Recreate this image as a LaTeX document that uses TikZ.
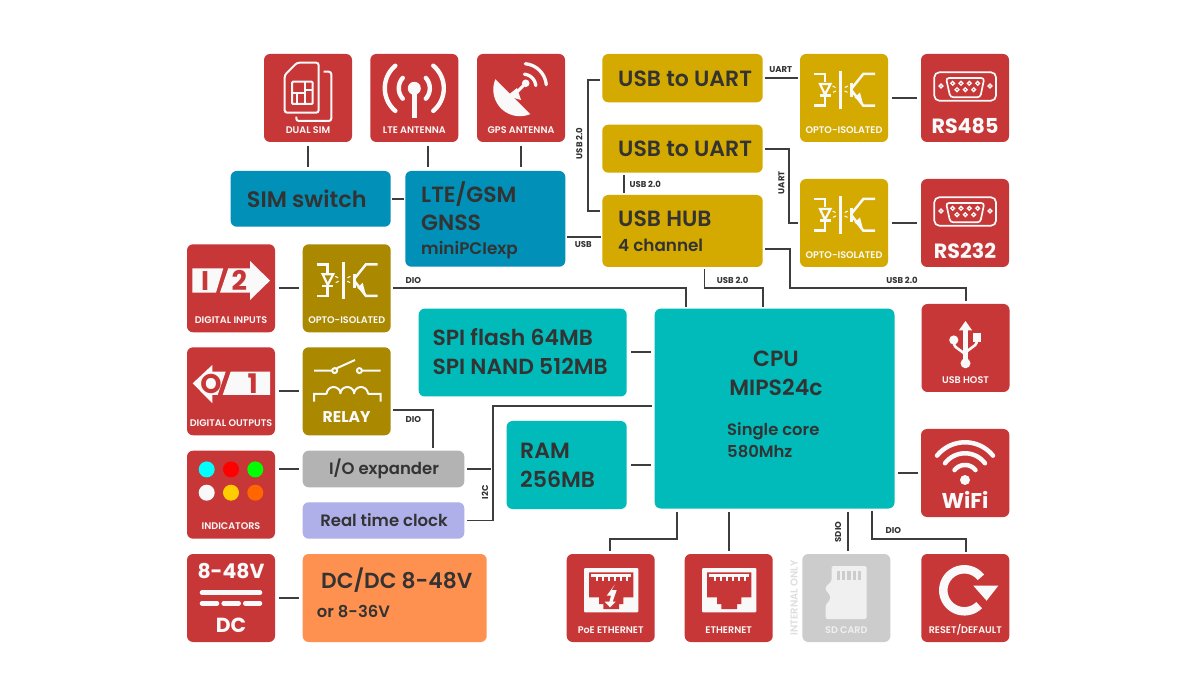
\documentclass[tikz,border=0pt]{standalone}
\usepackage{fontspec}
\setmainfont{Poppins}
\newfontfamily\pmed{Poppins Medium}
\newfontfamily\psemi{Poppins SemiBold}
\newcommand{\fs}[1]{\fontsize{#1}{#1}\selectfont}
\definecolor{rd}{HTML}{C83737}
\definecolor{gold}{HTML}{D4AA00}
\definecolor{dgold}{HTML}{AA8800}
\definecolor{blu}{HTML}{0090B8}
\definecolor{teal2}{HTML}{00BBB9}
\definecolor{gry}{HTML}{B3B3B3}
\definecolor{lav}{HTML}{AFAFE9}
\definecolor{org}{HTML}{FF9150}
\definecolor{sdg}{HTML}{CCCCCC}
\definecolor{ink}{HTML}{333333}
\definecolor{ic}{HTML}{F9F9F9}
\definecolor{yel}{HTML}{FFCC00}
\definecolor{ora}{HTML}{FF6600}
\definecolor{ledc}{HTML}{00FFFF}
\definecolor{ledr}{HTML}{FF0000}
\definecolor{ledg}{HTML}{00FF00}
\tikzset{
 bx/.style={rounded corners=6pt,inner sep=0pt,draw=none},
 conn/.style={draw=ink!95!white,line width=1.8pt,line join=miter,shorten >=#1,shorten <=#1},
 conn/.default=3.5pt,
 big/.style={font=\psemi,text=ink,inner sep=0pt,anchor=base west},
 mid/.style={font=\psemi,text=ink,inner sep=0pt,anchor=base},
 tag/.style={font=\bfseries\fs{8.5},text=ink,inner sep=0pt},
 lab/.style={font=\psemi\fs{9.6},text=ic,inner sep=0pt},
 il/.style={draw=ic,line width=1.7pt,fill=none},
 op/.style={draw=ic,line width=2.5pt,fill=none},
}
\newcommand{\mkbox}[6]{\node[bx,fill=#6,minimum width={#4-#2},minimum height={#5-#3}] (#1) at ({(#2+#4)/2},{(#3+#5)/2}) {};}
\newcommand{\Arc}[5]{plot[domain=#4:#5,samples=40,smooth] ({#1+#2*cos(\x)},{#3+#2*sin(\x)})}
\newcommand{\optoicon}{%
 \draw[op] (14,20)--(25,20)--(25,28.5);
 \draw[op,line width=2.2pt] (20,30)--(30.5,30)--(25,40.5)--cycle;
 \draw[op] (19.5,41.7)--(30.7,41.7);
 \draw[op] (25,41.7)--(25,51.7)--(14,51.7);
 \draw[op] (40.7,17.3)--(40.7,55);
 \draw[op,line width=3pt] (51.7,29.5)--(51.7,43.5);
 \draw[op] (52,34)--(63.3,20)--(75,20);
 \draw[op] (52,37)--(63.3,51.7)--(75,51.7);
 \fill[ic] (63,50)--(54.5,43.5)--(60,38.5)--cycle;
 \draw[ic,line width=1.1pt] (32.5,32)--(35.5,33.5) (33,38.3)--(36,37) (47.8,32)--(44.8,33.5) (47.5,38.3)--(44.5,37);
}
\newcommand{\rsicon}{%
 \draw[il,rounded corners=5pt] (13.3,18.3) rectangle (75,46.7);
 \draw[il,rounded corners=3pt] (25,24)--(63.3,24)--(59.3,43.3)--(29.3,43.3)--cycle;
 \foreach \px in {31.7,40,48.3,56.7} \draw[ic,line width=1.3pt] (\px,29.3) circle (1.9);
 \foreach \px in {36,44.3,52.7} \draw[ic,line width=1.3pt] (\px,35.7) circle (1.9);
 \draw[ic,line width=1.3pt] (20,32) circle (1.9) (69,32) circle (1.9);
}
\newcommand{\rjbase}{%
 \fill[ic,rounded corners=1pt] (17.3,14) rectangle (71.7,58.3);
 \fill[rd] (22.3,18.3)--(66.7,18.3)--(66.7,43.3)--(56.7,43.3)--(56.7,50)--(52.3,50)--(52.3,55)--(36.7,55)--(36.7,50)--(32.3,50)--(32.3,43.3)--(22.3,43.3)--cycle;
 \fill[ic] (24.3,20) rectangle (64.3,23);
 \foreach \px in {29,35,41,47,53,59} \fill[ic] (\px,22.7) rectangle (\px+2.4,26.7);
}
\begin{document}
\begin{tikzpicture}[x=1pt,y=-1pt]
\useasboundingbox (0,0) rectangle (1200,700);
\fill[white] (0,0) rectangle (1200,700);
% ---------- boxes
\mkbox{dualsim}{264}{54}{352}{142}{rd}
\mkbox{lteant}{370.3}{54}{458.3}{142}{rd}
\mkbox{gpsant}{477}{54}{565}{142}{rd}
\mkbox{simsw}{230.7}{171}{390.7}{226.7}{blu}
\mkbox{ltegsm}{405.3}{171}{565.3}{266.7}{blu}
\mkbox{uartA}{602.3}{54}{762.7}{102.3}{gold}
\mkbox{uartB}{602.3}{124.7}{762.7}{172.7}{gold}
\mkbox{hub}{602.3}{195}{762.7}{267}{gold}
\mkbox{optoA}{800}{54}{888}{142}{gold}
\mkbox{optoB}{800}{179}{888}{267}{gold}
\mkbox{rsA}{921}{54}{1009}{142}{rd}
\mkbox{rsB}{921}{179}{1009}{267}{rd}
\mkbox{digin}{187}{244.3}{275}{332.3}{rd}
\mkbox{optoC}{302.7}{244.3}{390.7}{332.3}{dgold}
\mkbox{digout}{187}{347.3}{275}{435.3}{rd}
\mkbox{relay}{302.7}{347.3}{390.7}{435.3}{dgold}
\mkbox{spi}{418.7}{308.7}{626.7}{396.5}{teal2}
\mkbox{ram}{506.5}{421}{626.7}{509}{teal2}
\mkbox{cpu}{654.7}{308.7}{894.5}{508.5}{teal2}
\mkbox{usbhost}{921.5}{304}{1009.5}{392}{rd}
\mkbox{wifi}{921}{429}{1009.3}{517}{rd}
\mkbox{indic}{187}{450.7}{275}{538.7}{rd}
\mkbox{ioexp}{302.7}{450.7}{464.3}{487.3}{gry}
\mkbox{rtc}{302.7}{502.3}{464.3}{538.7}{lav}
\mkbox{dcin}{187}{554}{275}{642}{rd}
\mkbox{dcdc}{302.7}{554}{486.7}{642}{org}
\mkbox{poe}{566.7}{554}{654.7}{642}{rd}
\mkbox{eth}{684.7}{554}{772.7}{642}{rd}
\mkbox{sd}{802.3}{554}{890.3}{642}{sdg}
\mkbox{reset}{921.3}{554}{1009.3}{642}{rd}
% ---------- big texts
\node[big,font=\psemi\fs{22.4}] (tSim) at (246.7,207.4) {SIM switch};
\node[big,font=\psemi\fs{22}] (tLte) at (421,202.4) {LTE/GSM};
\node[big,font=\psemi\fs{22}] (tGnss) at (421,230.7) {GNSS};
\node[big,font=\psemi\fs{16.8}] (tMini) at (421,254.3) {miniPCIexp};
\node[big,font=\psemi\fs{22}] (tUa) at (618,86.4) {USB to UART};
\node[big,font=\psemi\fs{22}] (tUb) at (618,156.4) {USB to UART};
\node[big,font=\psemi\fs{22}] (tHub) at (618,226.7) {USB HUB};
\node[big,font=\psemi\fs{16.8}] (tCh) at (618,251.7) {4 channel};
\node[big,font=\psemi\fs{21.9}] (tSpiA) at (432.3,346) {SPI flash 64MB};
\node[big,font=\psemi\fs{21.9}] (tSpiB) at (432.3,374.3) {SPI NAND 512MB};
\node[mid,font=\psemi\fs{22}] (tCpu) at (776,366.7) {CPU};
\node[mid,font=\psemi\fs{22}] (tMips) at (776,395.7) {MIPS24c};
\node[big,font=\psemi\fs{16.4}] (tCore) at (727,436) {Single core};
\node[big,font=\psemi\fs{16.4}] (tMhz) at (727,457) {580Mhz};
\node[big,font=\psemi\fs{22}] (tRam) at (520,458.5) {RAM};
\node[big,font=\psemi\fs{22}] (tRamB) at (520,487.5) {256MB};
\node[mid,font=\psemi\fs{16.5}] (tIo) at (384,474.3) {I/O expander};
\node[mid,font=\psemi\fs{16.5}] (tRtc) at (384,526) {Real time clock};
\node[big,font=\psemi\fs{21.8}] (tDc) at (321,588) {DC/DC 8-48V};
\node[big,font=\psemi\fs{16.4}] (tDcb) at (316.7,617.3) {or 8-36V};
% ---------- connectors
\draw[conn] (dualsim.south) -- (dualsim.south |- simsw.north);
\coordinate (lteA) at ([xshift=13.3pt]lteant.south);
\draw[conn] (lteA) -- (lteA |- ltegsm.north);
\draw[conn] (gpsant.south) -- (gpsant.south |- ltegsm.north);
\draw[conn=1.5pt] (simsw.east) -- (simsw.east -| ltegsm.west);
\coordinate (hubW) at ([yshift=-5.7pt]hub.west);
\draw[conn=1.5pt] (hubW) -- (hubW -| ltegsm.east);
\coordinate (bar) at (588,0);
\coordinate (uaW) at ([yshift=-1.8pt]uartA.west);
\coordinate (hubWb) at ([yshift=19.7pt]hub.west);
\draw[conn=2pt] (uaW) -- (uaW -| bar) -- (hubWb -| bar) -- (hubWb);
\coordinate (ubS) at ([xshift=-58.5pt]uartB.south);
\draw[conn=2pt] (ubS) -- (ubS |- hub.north);
\draw[conn=1.7pt] (uartA.east) -- (uartA.east -| optoA.west);
\coordinate (ubE) at (uartB.east);
\coordinate (barB) at (788.7,0);
\draw[conn=2pt] (ubE) -- (ubE -| barB) -- (optoB.west -| barB) -- (optoB.west);
\draw[conn] (optoA.east) -- (rsA.west);
\draw[conn] (optoB.east) -- (rsB.west);
\coordinate (busY) at (0,288);
\coordinate (hubS) at ([xshift=22pt]hub.south);
\coordinate (cpuNa) at (763,308.7);
\draw[conn=2pt] (hubS) -- (hubS |- busY) -- (cpuNa |- busY) -- (cpuNa);
\coordinate (hubE) at ([yshift=-18.3pt]hub.east);
\coordinate (barC) at (789.7,0);
\coordinate (hostN) at (965.7,304);
\draw[conn=2.5pt] (hubE) -- (hubE -| barC) -- (barC |- busY) -- (hostN |- busY) -- (hostN);
\coordinate (cpuNb) at (685.7,308.7);
\draw[conn=2pt] (optoC.east) -- (optoC.east -| cpuNb) -- (cpuNb);
\draw[conn] (digin.east) -- (optoC.west);
\draw[conn] (digout.east) -- (relay.west);
\draw[conn] (indic.east |- ioexp.west) -- (ioexp.west);
\draw[conn] (dcin.east) -- (dcdc.west);
\coordinate (relE) at ([yshift=-18.7pt]relay.east);
\coordinate (ioN) at ([xshift=49.8pt]ioexp.north);
\draw[conn=2pt] (relE) -- (relE -| ioN) -- (ioN);
\coordinate (ySpi) at (0,352);
\coordinate (yRam) at (0,465);
\draw[conn=4pt] (spi.east |- ySpi) -- (cpu.west |- ySpi);
\draw[conn=4pt] (ram.east |- yRam) -- (cpu.west |- yRam);
\coordinate (i2c) at (493.3,0);
\coordinate (cpuW) at (654.7,406);
\coordinate (rtcE) at (rtc.east);
\draw[conn=2.5pt] (cpuW) -- (cpuW -| i2c) -- (rtcE -| i2c) -- (rtcE);
\draw[conn=2pt] (ioexp.east) -- (ioexp.east -| i2c);
\draw[conn=3pt] (cpu.east |- wifi.west) -- (wifi.west);
\coordinate (cpuSa) at (676.7,508.5);
\coordinate (busZ) at (0,538.7);
\coordinate (poeN) at (610.3,554);
\draw[conn=3pt] (cpuSa) -- (cpuSa |- busZ) -- (poeN |- busZ) -- (poeN);
\draw[conn=3pt] (eth.north |- cpu.south) -- (eth.north);
\coordinate (sdN) at (848,554);
\draw[conn=3pt] (sdN |- cpu.south) -- (sdN);
\coordinate (cpuSb) at (872.3,508.5);
\coordinate (resN) at (965.7,554);
\draw[conn=2.5pt] (cpuSb) -- (cpuSb |- busZ) -- (resN |- busZ) -- (resN);
% ---------- connector labels
\node[tag] (lUart) at (780.7,69.8) {UART};
\node[tag,rotate=90] (lUartB) at (781.3,182.7) {UART};
\node[tag,rotate=90] (lUsbL) at (579.3,143.3) {USB 2.0};
\node[tag] (lUsbM) at (645.3,184.2) {USB 2.0};
\node[tag] (lUsb) at (583.3,244.5) {USB};
\node[tag] (lUsbC) at (732.7,280.2) {USB 2.0};
\node[tag] (lUsbH) at (902,280.2) {USB 2.0};
\node[tag] (lDioA) at (413.3,280.2) {DIO};
\node[tag] (lDioB) at (413.3,419.2) {DIO};
\node[tag,rotate=90] (lI2c) at (485,492.3) {I2C};
\node[tag,rotate=90] (lSdio) at (838,532) {SDIO};
\node[tag] (lDioC) at (893.3,530.5) {DIO};
\node[font=\psemi\fs{10},text=black!13,inner sep=0pt,rotate=90] (lInt) at (794,597.7) {INTERNAL ONLY};
% ---------- dual sim icon
\begin{scope}[shift={(264,54)}]
 \draw[il,line width=2pt,rounded corners=2.5pt] (20.7,21)--(33,8.7)--(54.7,8.7)--(54.7,58.7)--(20.7,58.7)--cycle;
 \draw[il,line width=2pt,rounded corners=2.5pt] (59.7,17.7)--(67.3,17.7)--(67.3,67)--(32.3,67)--(32.3,62.7);
 \draw[il,rounded corners=1pt,line width=2pt] (28,27.7) rectangle (48.7,50);
 \draw[il,line width=2pt] (41.3,27.7)--(41.3,50) (28,38.7)--(41.3,38.7) (33,38.7)--(33,50) (41.3,36)--(48.7,36);
 \node[lab] (lSim) at (44,75.8) {DUAL SIM};
\end{scope}
% ---------- lte antenna
\begin{scope}[shift={(370.3,54)}]
 \fill[ic] (44,34.3) circle (6.5);
 \fill[ic] (41.7,34.3) rectangle (46.3,64.3);
 \draw[ic,line width=4.4pt,line cap=round] \Arc{44}{15.5}{34.3}{-42}{42};
 \draw[ic,line width=4.4pt,line cap=round] \Arc{44}{15.5}{34.3}{138}{222};
 \draw[ic,line width=4.4pt,line cap=round] \Arc{44}{29.5}{34.3}{-50}{50};
 \draw[ic,line width=4.4pt,line cap=round] \Arc{44}{29.5}{34.3}{130}{230};
 \node[lab] (lLte) at (44,75.8) {LTE ANTENNA};
\end{scope}
% ---------- gps antenna
\begin{scope}[shift={(477,54)}]
 \fill[ic] \Arc{42.9}{26.6}{35.6}{67}{203} -- cycle;
 \draw[ic,line width=3pt] (36,42)--(48.7,29.3);
 \fill[ic] (48.7,29.3) circle (3.8);
 \fill[ic] (30,42)--(40,34)--(44,46)--cycle;
 \draw[ic,line width=3.3pt,line cap=round] \Arc{46.3}{12.5}{32.7}{-85}{-5};
 \draw[ic,line width=3.3pt,line cap=round] \Arc{46.3}{23}{32.7}{-85}{-5};
 \node[lab] (lGps) at (44,75.8) {GPS ANTENNA};
\end{scope}
% ---------- opto
\begin{scope}[shift={(800,54)}]\optoicon\node[lab] (lOa) at (44,75.7) {OPTO-ISOLATED};\end{scope}
\begin{scope}[shift={(800,179)}]\optoicon\node[lab] (lOb) at (44,75.7) {OPTO-ISOLATED};\end{scope}
\begin{scope}[shift={(302.7,244.3)}]\optoicon\node[lab] (lOc) at (44,75.7) {OPTO-ISOLATED};\end{scope}
% ---------- rs
\begin{scope}[shift={(921,54)}]\rsicon\node[font=\bfseries\fs{20.6},text=ic,inner sep=0pt] (lRsA) at (44,72) {RS485};\end{scope}
\begin{scope}[shift={(921,179)}]\rsicon\node[font=\bfseries\fs{20.6},text=ic,inner sep=0pt] (lRsB) at (44,72) {RS232};\end{scope}
% ---------- digital inputs
\begin{scope}[shift={(187,244.3)}]
 \fill[ic] (5.3,24)--(36.3,24)--(29,48.3)--(5.3,48.3)--cycle;
 \fill[ic] (41.3,24)--(63,24)--(63,16.7)--(83,36.3)--(63,55.7)--(63,48.3)--(33,48.3)--cycle;
 \node[font=\bfseries\fs{27},text=rd,inner sep=0pt] (lI) at (18,36.3) {I};
 \node[font=\bfseries\fs{27},text=rd,inner sep=0pt] (l2) at (52.3,36.3) {2};
 \node[lab] (lDi) at (44,75.7) {DIGITAL INPUTS};
\end{scope}
% ---------- digital outputs
\begin{scope}[shift={(187,347.3)}]
 \fill[ic] (5.7,36)--(25.3,17.7)--(25.3,24.3)--(38.7,24.3)--(30.7,47.7)--(25.3,47.7)--(25.3,56)--cycle;
 \fill[ic] (43.7,24.3)--(83,24.3)--(83,47.7)--(35.7,47.7)--cycle;
 \node[font=\bfseries\fs{27},text=rd,inner sep=0pt] (lO) at (24,36.7) {O};
 \node[font=\bfseries\fs{27},text=rd,inner sep=0pt] (l1) at (65.7,36.7) {1};
 \node[lab] (lDo) at (44,75.7) {DIGITAL OUTPUTS};
\end{scope}
% ---------- relay
\begin{scope}[shift={(302.7,347.3)}]
 \draw[il,line width=2pt] (11.3,23.3)--(29.5,23.3) (34,21)--(52.3,12.7) (59.3,23.3)--(78,23.3);
 \draw[il,line width=2pt] (32,23.3) circle (2.5) (56.7,23.3) circle (2.5);
 \draw[il,line width=2pt] (11.3,54.3)--(11.3,46.7)--(24,46.7) \Arc{30.9}{6.9}{46.7}{180}{360} \Arc{44.6}{6.9}{46.7}{180}{360} \Arc{58.3}{6.9}{46.7}{180}{360} (65.2,46.7)--(78,46.7)--(78,54.3);
 \node[font=\bfseries\fs{15.6},text=ic,inner sep=0pt] (lRel) at (44,69.5) {RELAY};
\end{scope}
% ---------- indicators
\begin{scope}[shift={(187,450.7)}]
 \fill[ledc] (19.7,18.7) circle (8);
 \fill[ledr] (44,18.7) circle (8);
 \fill[ledg] (68.3,18.7) circle (8);
 \fill[ic] (19.7,42) circle (8);
 \fill[yel] (44,42) circle (8);
 \fill[ora] (68.3,42) circle (8);
 \node[lab] (lInd) at (44,75.7) {INDICATORS};
\end{scope}
% ---------- dc
\begin{scope}[shift={(187,554)}]
 \node[font=\bfseries\fs{20.4},text=ic,inner sep=0pt] (lDcV) at (44,16.7) {8-48V};
 \draw[ic,line width=4.6pt,line cap=round] (15,38.7)--(73,38.7);
 \draw[ic,line width=4.6pt,line cap=round] (15,49.3)--(30,49.3) (36.7,49.3)--(51.7,49.3) (58.3,49.3)--(73,49.3);
 \node[font=\bfseries\fs{20.4},text=ic,inner sep=0pt] (lDcT) at (44,71.7) {DC};
\end{scope}
% ---------- usb host
\begin{scope}[shift={(921.5,304)}]
 \fill[ic] (44,17)--(50.7,26.5)--(46.3,26.5)--(46.3,60)--(41.7,60)--(41.7,26.5)--(37.3,26.5)--cycle;
 \fill[ic] (44,59.3) circle (5);
 \fill[ic] (32.3,36) circle (4.6);
 \fill[ic] (51.3,28.7) rectangle (59.7,37.7);
 \draw[ic,line width=2.6pt] (32.3,38) .. controls (32.3,47) and (44,45) .. (44,54);
 \draw[ic,line width=2.6pt] (55.5,36) .. controls (55.5,45) and (44,43) .. (44,52);
 \node[lab] (lUh) at (44,75.8) {USB HOST};
\end{scope}
% ---------- wifi
\begin{scope}[shift={(921,429)}]
 \fill[ic] (44,51) circle (5);
 \draw[ic,line width=4.5pt,line cap=round] \Arc{44}{13.3}{49.3}{-142}{-38};
 \draw[ic,line width=4.5pt,line cap=round] \Arc{44}{25}{49.3}{-143}{-37};
 \draw[ic,line width=4.5pt,line cap=round] \Arc{44}{36}{49.3}{-141}{-39};
 \node[font=\bfseries\fs{21.4},text=ic,inner sep=0pt] (lWifi) at (44,71) {WiFi};
\end{scope}
% ---------- ethernet
\begin{scope}[shift={(566.7,554)}]
 \rjbase
 \fill[ic] (48,30.7)--(40,41.7)--(44.3,41.7)--(42.7,47.7)--(38,47.7)--(43.3,53.3)--(49,47.7)--(46,47.7)--(50,36)--(45,36)--cycle;
 \node[lab] (lPoe) at (44,75.8) {PoE ETHERNET};
\end{scope}
\begin{scope}[shift={(684.7,554)}]
 \rjbase
 \node[lab] (lEth) at (44,75.8) {ETHERNET};
\end{scope}
% ---------- sd
\begin{scope}[shift={(802.3,554)}]
 \fill[ic!80!sdg,rounded corners=1.5pt] (29.3,12)--(64.3,12)--(64.3,65)--(23.3,65)--(23.3,51)--(27.7,46)--(27.7,41)--(23.3,36)--(23.3,33)--(29.3,27)--cycle;
 \foreach \px in {34.3,39.6,44.9,50.2,55.5} \fill[sdg] (\px,17) rectangle (\px+3.4,26);
 \node[lab,text=ic!80!sdg] (lSd) at (44,75.8) {SD CARD};
\end{scope}
% ---------- reset
\begin{scope}[shift={(921.3,554)}]
 \draw[ic,line width=8.5pt] \Arc{43}{21}{36.3}{45}{322};
 \fill[ic] (52,31.7)--(77,31.7)--(65.3,46.7)--cycle;
 \node[lab] (lRes) at (44,75.8) {RESET/DEFAULT};
\end{scope}
\end{tikzpicture}
\end{document}
